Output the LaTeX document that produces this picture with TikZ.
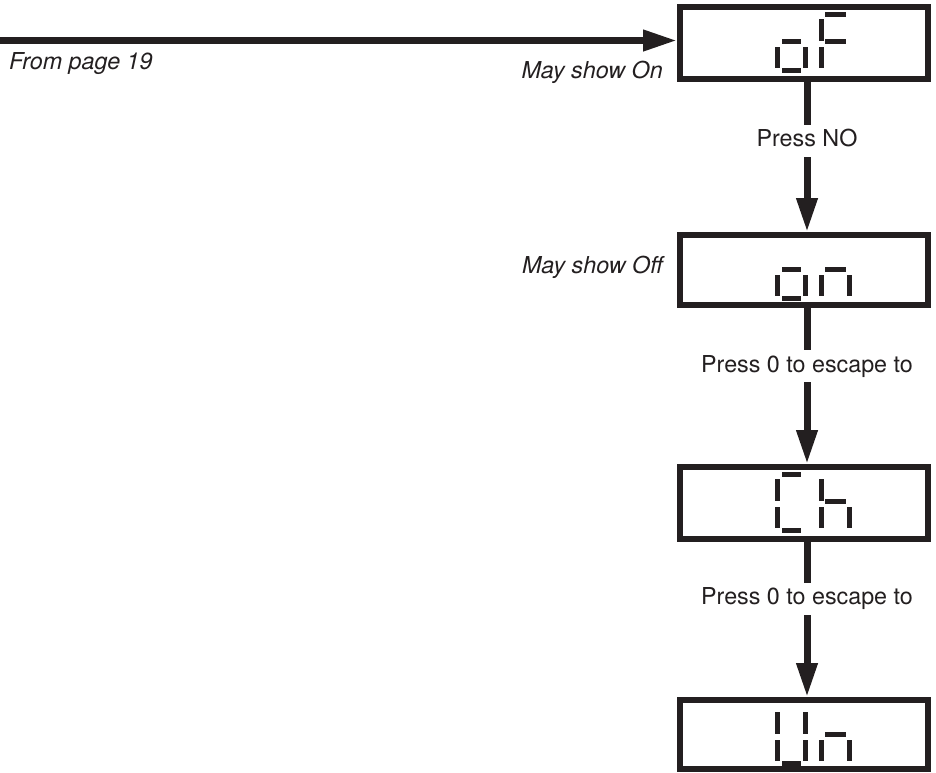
\documentclass[tikz,border=0pt]{standalone}
\usepackage{fontspec}
\setmainfont{TeX Gyre Heros}
\usetikzlibrary{arrows.meta}
\definecolor{ink}{HTML}{231F20}
\newcommand\sA[3]{\fill[ink] ({#1+#3},{#2+5}) rectangle ({#1+33-#3},{#2+10});}
\newcommand\sG[3]{\fill[ink] ({#1+#3},{#2+32}) rectangle ({#1+33-#3},{#2+37});}
\newcommand\sD[3]{\fill[ink] ({#1+#3},{#2+61}) rectangle ({#1+33-#3},{#2+66});}
\newcommand\sF[2]{\fill[ink] ({#1},{#2+12}) rectangle ({#1+5},{#2+34});}
\newcommand\sB[2]{\fill[ink] ({#1+28},{#2+12}) rectangle ({#1+33},{#2+34});}
\newcommand\sE[2]{\fill[ink] ({#1},{#2+40}) rectangle ({#1+5},{#2+61});}
\newcommand\sC[2]{\fill[ink] ({#1+28},{#2+40}) rectangle ({#1+33},{#2+61});}
\begin{document}
\begin{tikzpicture}[x=1pt,y=-1pt,
  disp/.style={draw=ink, line width=6pt, inner sep=0pt, outer sep=3pt, minimum width=248pt},
  arr/.style={draw=ink, line width=7pt, -{Triangle[length=34pt,width=20pt]}},
  lbl/.style={text=ink, inner sep=0pt, font=\fontsize{23.3pt}{28pt}\selectfont},
  onlbl/.style={lbl, fill=white, inner xsep=2pt, inner ysep=0pt, text height=22pt, text depth=10pt, anchor=base}]
\useasboundingbox (0,0) rectangle (936,772);
% display boxes
\node[disp, minimum height=72pt] (b1) at (804,43) {};
\node[disp, minimum height=69.5pt] (b2) at (804,269.75) {};
\node[disp, minimum height=72pt] (b3) at (804,503) {};
\node[disp, minimum height=69pt] (b4) at (804,734.5) {};
% box 1: oF
\sG{775}{7}{7}\sE{775}{7}\sC{775}{7}\sD{775}{7}{7}
\sA{819}{7}{6}\sF{819}{7}\sG{819}{7}{6}\sE{819}{7}
% box 2: on
\sG{775}{235}{7}\sE{775}{235}\sC{775}{235}\sD{775}{235}{7}
\sG{819}{235}{6}\sE{819}{235}\sC{819}{235}
% box 3: Ch
\sA{775}{467}{7}\sF{775}{467}\sE{775}{467}\sD{775}{467}{7}
\sF{819}{467}\sG{819}{467}{6}\sE{819}{467}\sC{819}{467}
% box 4: Un
\sF{775}{700}\sB{775}{700}\sE{775}{700}\sC{775}{700}\sD{775}{700}{7}
\sG{819}{700}{6}\sE{819}{700}\sC{819}{700}
% incoming arrow
\coordinate (src) at (0,40.5);
\draw[arr] (src) -- (src -| b1.west);
\node[lbl, anchor=base west] (from) at (9,69) {\itshape From page 19};
\node[lbl, anchor=base east] (mayon) at (663,78) {\itshape May show On};
\node[lbl, anchor=base east] (mayoff) at (663,273) {\itshape May show Off};
% vertical arrows
\draw[arr] ([xshift=3pt]b1.south) -- node[onlbl, pos=0.433] (l1) {Press NO} ([xshift=3pt]b2.north);
\draw[arr] ([xshift=3pt]b2.south) -- node[onlbl, pos=0.414] (l2) {Press 0 to escape to} ([xshift=3pt]b3.north);
\draw[arr] ([xshift=3pt]b3.south) -- node[onlbl, pos=0.406] (l3) {Press 0 to escape to} ([xshift=3pt]b4.north);
\end{tikzpicture}
\end{document}
